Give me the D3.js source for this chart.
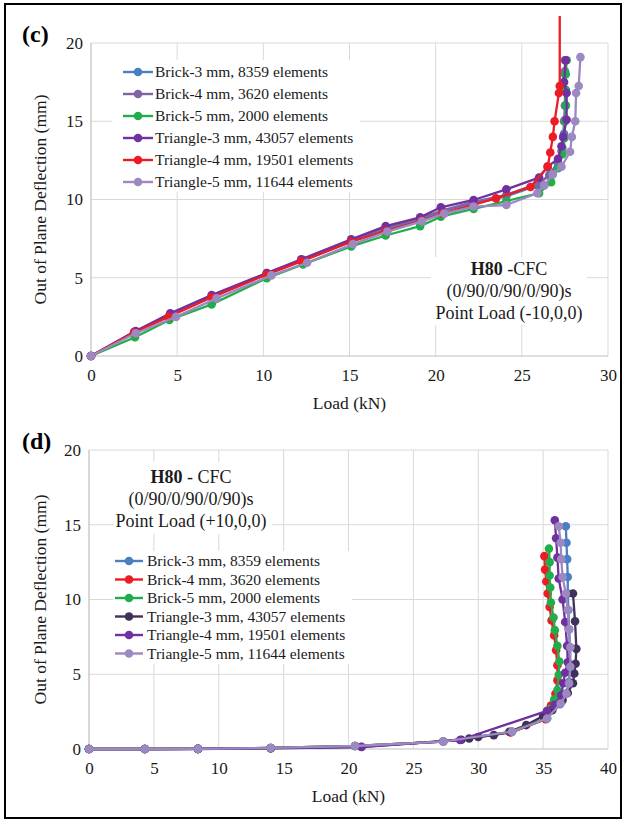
<!DOCTYPE html>
<html>
<head>
<meta charset="utf-8">
<script src="https://cdn.jsdelivr.net/npm/d3@7"></script>
<style>
  html, body { margin: 0; padding: 0; background: #fff; }
  svg { display: block; }
  svg text { font-family: "Liberation Serif", "Times New Roman", serif; }
</style>
</head>
<body>
<svg id="fig" width="627" height="824"></svg>
<script>
// ---------- shared axis values ----------
const deflTicks = [0, 5, 10, 15, 20];
const loadTicksC = [0, 5, 10, 15, 20, 25, 30];
const loadTicksD = [0, 5, 10, 15, 20, 25, 30, 35, 40];

// ---------- panel (c): point load (-10,0,0) ----------
const namesC = [
  "Brick-3 mm, 8359 elements",
  "Brick-4 mm, 3620 elements",
  "Brick-5 mm, 2000 elements",
  "Triangle-3 mm, 43057 elements",
  "Triangle-4 mm, 19501 elements",
  "Triangle-5 mm, 11644 elements"
];
const colorsC = ["#4a7fc1", "#8064a2", "#21ad4b", "#7030a0", "#ed1c24", "#9c89c1"];

const cBrick3 = [[0,0],[2.5,1.5],[4.6,2.6],[7.0,3.75],[10.2,5.25],[12.3,6.1],[15.1,7.3],[17.1,8.1],[19.1,8.7],[20.4,9.25],[22.2,9.75],[24.1,10.2],[25.9,10.9],[26.6,11.6],[27.1,12.4],[27.35,13.3],[27.45,14.2],[27.5,15.1],[27.55,16.0],[27.55,17.0],[27.5,18.0],[27.55,18.9]];
const cBrick4 = [[0,0],[2.5,1.55],[4.6,2.65],[7.0,3.8],[10.2,5.3],[12.3,6.15],[15.1,7.35],[17.1,8.2],[19.1,8.8],[20.4,9.3],[22.2,9.85],[24.1,10.3],[25.9,11.0],[26.6,11.5],[27.1,12.3],[27.3,13.1],[27.4,14.0],[27.45,15.0],[27.5,16.0],[27.5,17.0],[27.5,18.2],[27.5,18.9]];
const cBrick5 = [[0,0],[2.55,1.2],[4.55,2.3],[7.0,3.3],[10.2,4.97],[12.3,5.85],[15.1,7.0],[17.1,7.7],[19.1,8.3],[20.3,8.9],[22.2,9.4],[24.1,9.9],[26.0,10.4],[26.7,11.1],[27.1,12.0],[27.35,12.9],[27.45,13.9],[27.5,15.0],[27.55,16.0],[27.55,17.0],[27.55,18.0],[27.6,18.9]];
const cTri3 = [[0,0],[2.6,1.6],[4.6,2.73],[7.0,3.9],[10.2,5.3],[12.2,6.18],[15.1,7.45],[17.1,8.3],[19.1,8.86],[20.3,9.5],[22.2,9.97],[24.1,10.65],[26.0,11.4],[26.5,12.1],[27.1,12.6],[27.3,13.4],[27.4,14.0],[27.6,15.1],[27.6,16.8],[27.45,17.5],[27.55,18.9]];
const cTri4 = [[0,0],[2.5,1.5],[4.5,2.5],[7.0,3.75],[10.2,5.2],[12.2,6.05],[15.1,7.3],[17.1,8.0],[19.2,8.65],[20.4,9.1],[23.5,10.07],[25.5,10.8],[26.5,12.1],[26.65,13.0],[26.8,14.0],[26.9,15.0],[27.15,16.8],[27.2,17.25],[27.2,24]];
const cTri5 = [[0,0],[2.6,1.45],[4.93,2.5],[7.28,3.68],[10.47,5.15],[12.54,5.96],[15.2,7.15],[17.2,7.95],[19.2,8.6],[20.5,9.1],[22.2,9.55],[24.1,9.65],[25.9,10.4],[26.3,10.9],[26.8,11.6],[27.3,12.1],[27.8,13.05],[27.9,14.0],[28.1,15.0],[28.15,16.8],[28.3,17.25],[28.4,19.1]];

// ---------- panel (d): point load (+10,0,0) ----------
const namesD = [
  "Brick-3 mm, 8359 elements",
  "Brick-4 mm, 3620 elements",
  "Brick-5 mm, 2000 elements",
  "Triangle-3 mm, 43057 elements",
  "Triangle-4 mm, 19501 elements",
  "Triangle-5 mm, 11644 elements"
];
const colorsD = ["#4a7fc1", "#ed1c24", "#21ad4b", "#41315a", "#7030a0", "#9c89c1"];

const dBrick3 = [[0,0],[4.3,0],[8.4,0.01],[14.0,0.07],[20.5,0.2],[27.3,0.5],[32.6,1.15],[35.3,2.05],[36.3,3.0],[36.75,3.7],[37.0,4.5],[37.05,5.6],[37.05,6.8],[37.0,8.0],[36.95,9.3],[36.9,10.4],[36.9,11.5],[36.85,12.7],[36.8,13.8],[36.75,14.9]];
const dBrick4 = [[0,0],[4.3,0],[8.4,0.01],[14.0,0.07],[20.5,0.2],[27.3,0.5],[32.5,1.1],[35.2,2.0],[35.6,2.9],[35.95,3.7],[36.1,4.6],[36.1,5.6],[36.0,6.6],[35.85,7.6],[35.65,8.6],[35.5,9.5],[35.35,10.4],[35.25,11.2],[35.15,12.0],[35.1,12.9]];
const dBrick5 = [[0,0],[4.3,0],[8.4,0.01],[14.0,0.07],[20.5,0.2],[27.3,0.5],[32.6,1.15],[35.3,2.05],[35.6,2.7],[35.85,3.3],[36.1,3.95],[36.2,4.95],[36.25,5.85],[36.1,6.9],[35.9,7.95],[35.8,8.8],[35.6,9.8],[35.55,10.8],[35.5,11.6],[35.5,12.5],[35.45,13.4]];
const dTri3 = [[0,0],[4.3,0],[8.4,0],[14.0,0.05],[21.0,0.13],[28.7,0.62],[29.3,0.7],[30.0,0.8],[31.2,0.93],[32.4,1.15],[33.7,1.6],[35.0,2.2],[35.7,2.6],[36.5,3.27],[36.9,3.75],[37.3,4.4],[37.4,5.05],[37.5,5.7],[37.56,6.7],[37.46,8.55],[37.3,10.4]];
const dTri4 = [[0,0],[4.3,0],[8.4,0.01],[14.0,0.06],[21.0,0.15],[28.6,0.6],[35.3,2.55],[35.9,2.95],[36.4,3.6],[36.55,4.4],[36.7,5.1],[36.9,5.8],[36.85,6.9],[36.7,8.5],[36.5,10.0],[36.2,11.4],[36.1,12.8],[36.0,14.1],[35.9,15.3]];
const dTri5 = [[0,0],[4.3,0],[8.4,0.01],[14.0,0.07],[20.5,0.2],[27.3,0.49],[32.6,1.16],[35.3,2.04],[36.35,3.04],[36.8,3.7],[37.0,4.4],[37.1,5.5],[37.1,6.8],[37.0,8.0],[36.9,9.3],[36.75,10.4],[36.5,11.5],[36.4,12.7],[36.35,13.8],[36.2,14.9]];

const svg = d3.select("#fig");
const FONT = "Liberation Serif, Times New Roman, serif";
const INK = "#1a1a1a";

// outer frame
svg.append("rect")
  .attr("x", 5).attr("y", 4).attr("width", 616).attr("height", 814)
  .attr("fill", "none").attr("stroke", "#000").attr("stroke-width", 2);

function drawPanel(p) {
  const x = d3.scaleLinear().domain([0, p.xMax]).range([p.left, p.right]);
  const y = d3.scaleLinear().domain([0, 20]).range([p.bottom, p.top]);
  const g = svg.append("g").attr("font-family", FONT);
  const clipId = "clip-" + p.tag;

  g.append("clipPath").attr("id", clipId)
    .append("rect")
    .attr("x", p.left - 10).attr("y", p.top - p.overshoot)
    .attr("width", p.right - p.left + 20)
    .attr("height", p.bottom - p.top + p.overshoot + 10);

  // gridlines
  g.append("g").selectAll("line").data(p.xTicks.slice(1)).join("line")
    .attr("x1", d => x(d)).attr("x2", d => x(d))
    .attr("y1", y(0)).attr("y2", y(20))
    .attr("stroke", "#d9d9d9").attr("stroke-width", 1);
  g.append("g").selectAll("line").data(deflTicks.slice(1)).join("line")
    .attr("x1", x(0)).attr("x2", x(p.xMax))
    .attr("y1", d => y(d)).attr("y2", d => y(d))
    .attr("stroke", "#d9d9d9").attr("stroke-width", 1);

  // axis lines
  g.append("line").attr("x1", x(0)).attr("x2", x(p.xMax)).attr("y1", y(0)).attr("y2", y(0))
    .attr("stroke", "#bfbfbf").attr("stroke-width", 1.2);
  g.append("line").attr("x1", x(0)).attr("x2", x(0)).attr("y1", y(0)).attr("y2", y(20))
    .attr("stroke", "#bfbfbf").attr("stroke-width", 1.2);

  // tick labels
  const ax = g.append("g").attr("transform", `translate(0,${y(0)})`)
    .call(d3.axisBottom(x).tickValues(p.xTicks).tickSize(0).tickPadding(13).tickFormat(d3.format("d")));
  ax.select(".domain").remove();
  ax.attr("font-family", FONT).attr("font-size", 17);
  ax.selectAll("text").attr("fill", INK).attr("font-family", FONT);

  const ay = g.append("g").attr("transform", `translate(${x(0)},0)`)
    .call(d3.axisLeft(y).tickValues(deflTicks).tickSize(0).tickPadding(8).tickFormat(d3.format("d")));
  ay.select(".domain").remove();
  ay.attr("font-family", FONT).attr("font-size", 17);
  ay.selectAll("text").attr("fill", INK).attr("font-family", FONT);

  // axis titles
  g.append("text")
    .attr("x", (p.left + p.right) / 2).attr("y", y(0) + 53)
    .attr("text-anchor", "middle").attr("font-size", 17.5).attr("fill", INK)
    .attr("font-family", FONT)
    .text("Load (kN)");
  g.append("text")
    .attr("transform", `translate(46,${(p.top + p.bottom) / 2}) rotate(-90)`)
    .attr("text-anchor", "middle").attr("font-size", 17.5).attr("fill", INK)
    .attr("font-family", FONT)
    .text("Out of Plane Deflection (mm)");

  // panel tag
  g.append("text").attr("x", 22).attr("y", p.top - 1)
    .attr("font-size", 24).attr("font-weight", "bold").attr("fill", "#000")
    .attr("font-family", FONT)
    .text("(" + p.tag + ")");

  // note box
  const nb = p.note;
  g.append("rect").attr("x", nb.x0).attr("y", nb.y0)
    .attr("width", nb.x1 - nb.x0).attr("height", nb.y1 - nb.y0).attr("fill", "#fff");
  const nt = g.append("g").attr("font-size", 18).attr("fill", INK)
    .attr("font-family", FONT).attr("text-anchor", "middle");
  const l1 = nt.append("text").attr("x", nb.cx).attr("y", nb.base);
  l1.append("tspan").attr("font-weight", "bold").text("H80");
  l1.append("tspan").text(nb.sep + "CFC");
  nt.append("text").attr("x", nb.cx).attr("y", nb.base + nb.step).text("(0/90/0/90/0/90)s");
  nt.append("text").attr("x", nb.cx).attr("y", nb.base + 2 * nb.step).text(nb.load);

  // legend
  const lg = p.legend;
  g.append("rect").attr("x", lg.x0).attr("y", lg.y0)
    .attr("width", lg.x1 - lg.x0).attr("height", lg.y1 - lg.y0).attr("fill", "#fff");
  const items = g.append("g").selectAll("g").data(p.names).join("g")
    .attr("transform", (d, i) => `translate(0,${lg.first + i * lg.step})`);
  items.append("line").attr("x1", lg.lineX0).attr("x2", lg.lineX1)
    .attr("stroke", (d, i) => p.colors[i]).attr("stroke-width", 2.4);
  items.append("circle").attr("cx", (lg.lineX0 + lg.lineX1) / 2).attr("r", 4.3)
    .attr("fill", (d, i) => p.colors[i]);
  items.append("text").attr("x", lg.textX).attr("y", 5.3)
    .attr("font-size", 15.5).attr("fill", INK).attr("font-family", FONT).text(d => d);

  // series
  const line = d3.line().x(d => x(d[0])).y(d => y(d[1]));
  const sg = g.append("g").attr("clip-path", `url(#${clipId})`);
  p.series.forEach((s, i) => {
    const col = p.colors[i];
    sg.append("path").datum(s).attr("d", line)
      .attr("fill", "none").attr("stroke", col).attr("stroke-width", 2.3)
      .attr("stroke-linejoin", "round");
    sg.append("g").selectAll("circle").data(s).join("circle")
      .attr("cx", d => x(d[0])).attr("cy", d => y(d[1])).attr("r", 4.3)
      .attr("fill", col);
  });
}

drawPanel({
  tag: "c", xMax: 30, xTicks: loadTicksC,
  left: 91, right: 608, top: 43, bottom: 356, overshoot: 27,
  names: namesC, colors: colorsC,
  series: [cBrick3, cBrick4, cBrick5, cTri3, cTri4, cTri5],
  legend: { x0: 112, x1: 360, y0: 60, y1: 192, first: 72, step: 22, lineX0: 123, lineX1: 153, textX: 155 },
  note: { x0: 431, x1: 587, y0: 257, y1: 325, cx: 509, base: 275, step: 22, sep: " -", load: "Point Load (-10,0,0)" }
});

drawPanel({
  tag: "d", xMax: 40, xTicks: loadTicksD,
  left: 89, right: 608, top: 450, bottom: 749, overshoot: 0,
  names: namesD, colors: colorsD,
  series: [dBrick3, dBrick4, dBrick5, dTri3, dTri4, dTri5],
  legend: { x0: 113, x1: 352, y0: 551, y1: 664, first: 561, step: 18.5, lineX0: 115, lineX1: 143, textX: 147 },
  note: { x0: 113, x1: 272, y0: 462, y1: 534, cx: 191, base: 483, step: 22, sep: " - ", load: "Point Load (+10,0,0)" }
});
</script>
</body>
</html>
